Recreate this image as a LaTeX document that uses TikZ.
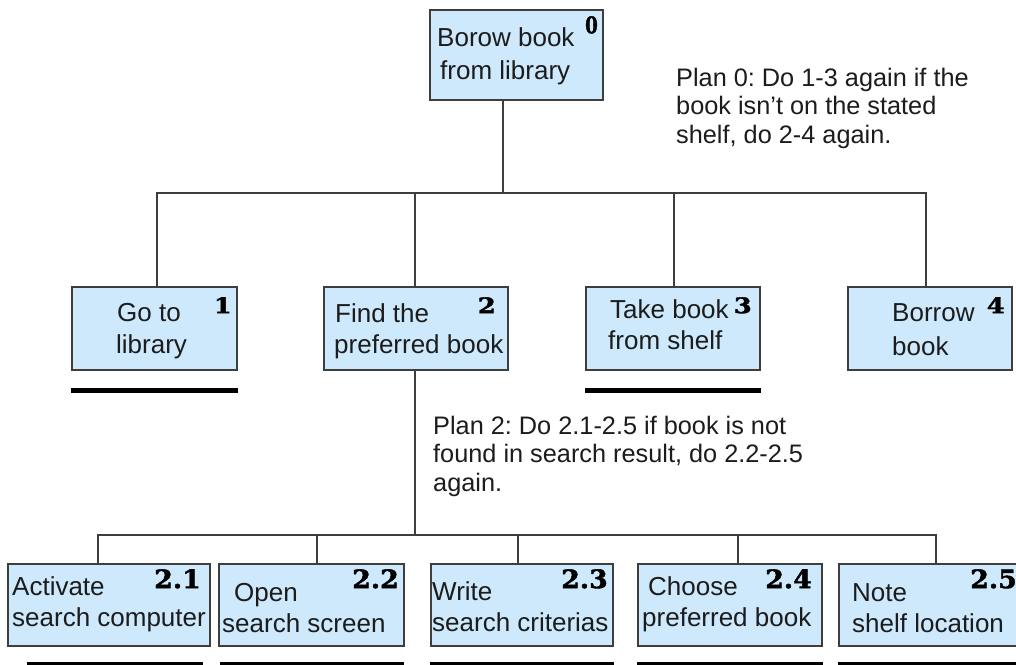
\documentclass[tikz,border=0pt]{standalone}
\usepackage{fontspec}
\setmainfont{Liberation Sans}
\newfontfamily\numfont{DejaVu Serif}[UprightFont=* Bold, FakeBold=1.6]
\usetikzlibrary{calc}

\definecolor{boxfill}{RGB}{205,233,251}
\definecolor{boxline}{RGB}{62,62,62}
\definecolor{ink}{RGB}{28,28,28}

% multi-line labels whose reference point is the first baseline
\newcommand\twolines[2]{\begin{tabular}[t]{@{}l@{}}#1\\#2\end{tabular}}
\newcommand\threelines[3]{\begin{tabular}[t]{@{}l@{}}#1\\#2\\#3\end{tabular}}

\tikzset{
  task/.style={draw=boxline, fill=boxfill, line width=1.4pt, inner sep=0pt},
  lbl/.style={anchor=base west, inner sep=0pt, text=ink,
              font=\frenchspacing\fontsize{26}{32}\selectfont},
  plan/.style={anchor=base west, inner sep=0pt, text=ink,
               font=\frenchspacing\fontsize{25.3}{28.8}\selectfont},
  num/.style={anchor=north east, inner sep=0pt, text=black, xscale=1.2,
              font=\numfont\fontsize{21.5}{22}\selectfont},
  subnum/.style={anchor=north east, inner sep=0pt, text=black, xscale=1.05,
              font=\numfont\fontsize{25.5}{26}\selectfont},
  link/.style={draw=boxline, line width=1.3pt},
  stopbar/.style={draw=black, line width=5pt},
}

\begin{document}
\begin{tikzpicture}[x=1pt, y=-1pt]
\useasboundingbox[fill=white] (0,0) rectangle (1016,664);
\clip (0,0) rectangle (1016,664);

% ---- task boxes ----
\node[task, minimum width=173pt, minimum height=90pt] (t0) at (516.5,55) {};
\node[task, minimum width=165pt, minimum height=83pt] (t1) at (154.5,328.5) {};
\node[task, minimum width=184pt, minimum height=83pt] (t2) at (416,328.5) {};
\node[task, minimum width=174pt, minimum height=83pt] (t3) at (673,328.5) {};
\node[task, minimum width=164pt, minimum height=83pt] (t4) at (930,328.5) {};

\node[task, minimum width=202pt, minimum height=82pt] (t21) at (109,605) {};
\node[task, minimum width=185pt, minimum height=82pt] (t22) at (311.5,605) {};
\node[task, minimum width=182pt, minimum height=82pt] (t23) at (522,605) {};
\node[task, minimum width=184pt, minimum height=82pt] (t24) at (730,605) {};
\node[task, minimum width=183pt, minimum height=82pt] (t25) at (930.5,605) {};

% ---- box texts ----
\node[lbl, font=\frenchspacing\fontsize{26}{33}\selectfont] (l0) at (437,46) {\twolines{Borow book}{\hspace*{3pt}from library}};
\node[lbl] (l1) at (116,321) {\twolines{\hspace*{1pt}Go to}{library}};
\node[lbl, font=\frenchspacing\fontsize{26}{31}\selectfont] (l2) at (334,322) {\twolines{\hspace*{1pt}Find the}{preferred book}};
\node[lbl, font=\frenchspacing\fontsize{26}{31}\selectfont] (l3) at (608,318) {\twolines{\hspace*{2pt}Take book}{from shelf}};
\node[lbl, font=\frenchspacing\fontsize{26}{34}\selectfont] (l4) at (892,321) {\twolines{Borrow}{book}};

\node[lbl, font=\frenchspacing\fontsize{26}{31}\selectfont] (l21) at (12,595) {\twolines{Activate}{search computer}};
\node[lbl, font=\frenchspacing\fontsize{26}{31}\selectfont] (l22) at (222,601) {\twolines{\hspace*{12pt}Open}{search screen}};
\node[lbl, font=\frenchspacing\fontsize{26}{31}\selectfont] (l23) at (432,600) {\twolines{Write}{search criterias}};
\node[lbl, font=\frenchspacing\fontsize{26}{31}\selectfont] (l24) at (642,595) {\twolines{\hspace*{6pt}Choose}{preferred book}};
\node[lbl, font=\frenchspacing\fontsize{26}{31}\selectfont] (l25) at (852,601) {\twolines{Note}{shelf location}};

% ---- task numbers ----
\node[num, xscale=0.66, font=\numfont\fontsize{23}{23}\selectfont] (n0) at (598,16) {0};
\node[num] (n1) at (232,297) {1};
\node[num] (n2) at (496,297) {2};
\node[num] (n3) at (752,297) {3};
\node[num] (n4) at (1005,297) {4};

\node[subnum] (n21) at (201,569) {2.1};
\node[subnum] (n22) at (399,569) {2.2};
\node[subnum] (n23) at (608,569) {2.3};
\node[subnum] (n24) at (812,569) {2.4};
\node[subnum, anchor=north west] (n25) at (970,569) {2.5};

% ---- plans ----
\node[plan] (p0) at (676,86) {\threelines{Plan 0: Do 1-3 again if the}{book isn't on the stated}{shelf, do 2-4 again.}};
\node[plan] (p2) at (433,434) {\threelines{Plan 2: Do 2.1-2.5 if book is not}{found in search result, do 2.2-2.5}{again.}};

% ---- hierarchy connectors ----
\coordinate (j0) at (503,193);
\draw[link] (j0 |- t0.south) -- (j0);
\draw[link] ([xshift=2.5pt]t1.north) |- (j0) -| ([xshift=-4pt]t4.north);
\draw[link] ([xshift=-1pt]t2.north) -- ([xshift=-1pt]t2.north |- j0);
\draw[link] ([xshift=1pt]t3.north) -- ([xshift=1pt]t3.north |- j0);

\coordinate (j2) at (415,535);
\draw[link] (j2 |- t2.south) -- (j2);
\draw[link] ([xshift=-11pt]t21.north) |- (j2) -| ([xshift=5.5pt]t25.north);
\draw[link] ([xshift=5.5pt]t22.north) -- ([xshift=5.5pt]t22.north |- j2);
\draw[link] ([xshift=-4pt]t23.north) -- ([xshift=-4pt]t23.north |- j2);
\draw[link] ([xshift=8pt]t24.north) -- ([xshift=8pt]t24.north |- j2);

% ---- stop bars under undecomposed tasks ----
\draw[stopbar] ($(t1.south west)+(0,19.5)$) -- ($(t1.south east)+(0,19.5)$);
\draw[stopbar] ($(t3.south west)+(0,19.5)$) -- ($(t3.south east)+(0,19.5)$);
\draw[stopbar] ($(t21.south west)+(20,18)$) -- ($(t21.south east)+(-8,18)$);
\draw[stopbar] ($(t22.south west)+(2,18)$) -- ($(t22.south east)+(-1,18)$);
\draw[stopbar] ($(t23.south west)+(0,18)$) -- ($(t23.south east)+(0,18)$);
\draw[stopbar] ($(t24.south west)+(0,18)$) -- ($(t24.south east)+(0,18)$);
\draw[stopbar] ($(t25.south west)+(0,18)$) -- ($(t25.south east)+(0,18)$);
\end{tikzpicture}
\end{document}
